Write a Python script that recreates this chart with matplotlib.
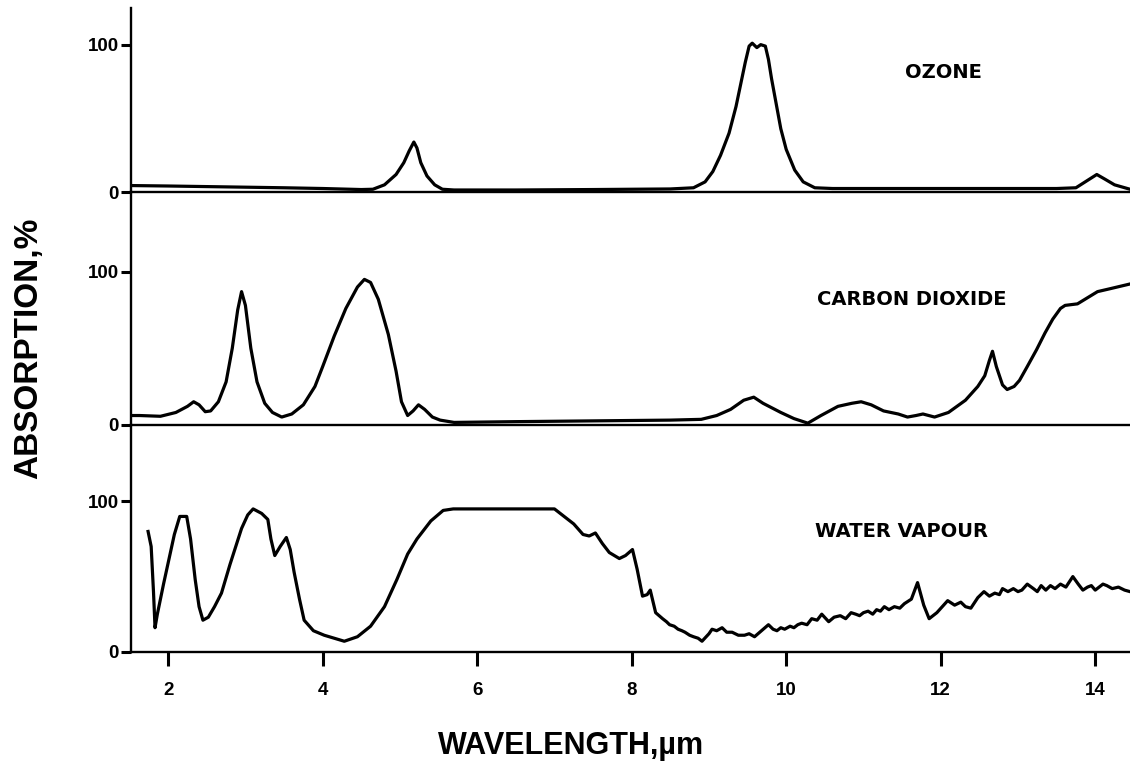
import matplotlib
matplotlib.use('Agg')
from matplotlib import pyplot as plt


### data (wavelength um, absorption %) ###
ozone_x = [1.52, 2.0, 2.5, 3.0, 3.5, 4.0, 4.5, 4.65, 4.8, 4.95, 5.05, 5.12, 5.18,
           5.22, 5.27, 5.35, 5.45, 5.55, 5.7, 6.5, 7.5, 8.5, 8.8, 8.95, 9.05,
           9.15, 9.26, 9.35, 9.41, 9.47, 9.52, 9.56, 9.62, 9.67, 9.73, 9.77,
           9.81, 9.87, 9.93, 10.0, 10.11, 10.22, 10.37, 10.6, 11.5, 12.5, 13.5,
           13.75, 13.9, 14.02, 14.12, 14.25, 14.45]
ozone_y = [4.5, 4.2, 3.8, 3.4, 3.0, 2.5, 1.8, 2.0, 5, 12, 20, 28, 34,
           30, 20, 11, 5, 2, 1.5, 1.5, 1.8, 2.2, 3, 7, 14,
           25, 40, 58, 73, 88, 99, 101, 98, 100, 99, 90,
           77, 60, 43, 29, 15, 7, 3, 2.5, 2.5, 2.5, 2.5,
           3, 8, 12, 9, 5, 2]

co2_x = [1.52, 1.63, 1.9, 2.1, 2.25, 2.33, 2.4, 2.48, 2.55, 2.65, 2.75, 2.83,
         2.9, 2.95, 3.0, 3.07, 3.15, 3.25, 3.35, 3.47, 3.6, 3.75, 3.9, 4.0,
         4.15, 4.3, 4.45, 4.54, 4.62, 4.72, 4.85, 4.95, 5.02, 5.1, 5.17, 5.24,
         5.32, 5.42, 5.52, 5.7, 6.5, 7.5, 8.5, 8.9, 9.1, 9.28, 9.45, 9.58,
         9.7, 9.93, 10.1, 10.28, 10.45, 10.67, 10.85, 10.97, 11.1, 11.26,
         11.45, 11.57, 11.68, 11.77, 11.92, 12.1, 12.32, 12.48, 12.57, 12.63,
         12.67, 12.72, 12.8, 12.86, 12.95, 13.02, 13.12, 13.24, 13.35, 13.45,
         13.55, 13.61, 13.77, 13.9, 14.03, 14.2, 14.45]
co2_y = [6, 6, 5.5, 8, 12, 15, 13, 8.5, 9, 15, 28, 50,
         75, 87, 78, 50, 28, 14, 8, 5, 7, 13, 25, 38,
         58, 76, 90, 95, 93, 82, 59, 35, 15, 6, 9, 13,
         10, 5, 3, 1.5, 2, 2.5, 3, 3.5, 6, 10, 16, 18,
         14, 8, 4, 1, 6, 12, 14, 15, 13, 9,
         7, 5, 6, 7, 5, 8, 16, 25, 32, 42,
         48, 38, 26, 23, 25, 29, 38, 49, 60, 69,
         76, 78, 79, 83, 87, 89, 92]

h2o_x = [1.74, 1.78, 1.81, 1.83, 1.86, 1.88, 1.94, 2.0, 2.08, 2.15, 2.24, 2.29,
         2.35, 2.4, 2.45, 2.52, 2.6, 2.69, 2.8, 2.95, 3.03, 3.1, 3.21, 3.29,
         3.33, 3.38, 3.45, 3.53, 3.58, 3.63, 3.7, 3.76, 3.88, 4.02, 4.15, 4.28,
         4.45, 4.62, 4.8, 4.96, 5.1, 5.22, 5.4, 5.56, 5.69, 6.0, 7.0, 7.1,
         7.25, 7.37, 7.45, 7.53, 7.62, 7.71, 7.84, 7.92, 8.01, 8.07, 8.14, 8.2,
         8.24, 8.31, 8.4, 8.45, 8.49, 8.55, 8.6, 8.65, 8.69, 8.75, 8.8, 8.86,
         8.91, 9.0, 9.04, 9.1, 9.17, 9.23, 9.3, 9.38, 9.46, 9.52, 9.59, 9.68,
         9.77, 9.83, 9.88, 9.93, 9.98, 10.05, 10.1, 10.15, 10.2, 10.27, 10.33,
         10.4, 10.46, 10.55, 10.62, 10.7, 10.77, 10.84, 10.9, 10.95, 11.0,
         11.06, 11.12, 11.17, 11.22, 11.27, 11.33, 11.4, 11.47, 11.53, 11.62,
         11.7, 11.78, 11.85, 11.95, 12.02, 12.09, 12.18, 12.26, 12.32, 12.39,
         12.48, 12.56, 12.63, 12.7, 12.76, 12.8, 12.87, 12.94, 13.0, 13.05,
         13.12, 13.2, 13.25, 13.3, 13.36, 13.42, 13.48, 13.55, 13.62, 13.71,
         13.78, 13.84, 13.9, 13.95, 14.0, 14.05, 14.1, 14.15, 14.22, 14.3,
         14.38, 14.45]
h2o_y = [80, 70, 40, 16, 25, 30, 45, 59, 78, 90, 90, 75,
         48, 30, 21, 23, 30, 39, 58, 82, 91, 95, 92, 88,
         75, 64, 70, 76, 68, 53, 35, 21, 14, 11, 9, 7,
         10, 17, 30, 48, 65, 75, 87, 94, 95, 95, 95, 91,
         85, 78, 77, 79, 72, 66, 62, 64, 68, 55, 37, 38,
         41, 26, 22, 20, 18, 17, 15, 14, 13, 11, 10, 9,
         7, 12, 15, 14, 16, 13, 13, 11, 11, 12, 10, 14,
         18, 15, 14, 16, 15, 17, 16, 18, 19, 18, 22,
         21, 25, 20, 23, 24, 22, 26, 25, 24, 26,
         27, 25, 28, 27, 30, 28, 30, 29, 32, 35,
         46, 31, 22, 26, 30, 34, 31, 33, 30, 29,
         36, 40, 37, 39, 38, 42, 40, 42, 40, 41,
         45, 42, 40, 44, 41, 44, 42, 45, 43, 50,
         45, 41, 43, 44, 41, 43, 45, 44, 42, 43,
         41, 40]

panel_names = ['OZONE', 'CARBON DIOXIDE', 'WATER VAPOUR']
y_ticks = [0, 100]
x_ticks = [2, 4, 6, 8, 10, 12, 14]

myFont = 'Liberation Sans'
plt.rcParams['font.family'] = [myFont, 'DejaVu Sans']


### figure and stacked panels ###
fig = plt.figure(figsize=(11.3, 7.75), dpi=100)

# [left, bottom, width, height] in figure fraction
ax_oz = fig.add_axes([0.116, 0.752, 0.884, 0.238])
ax_co = fig.add_axes([0.116, 0.452, 0.884, 0.300])
ax_wv = fig.add_axes([0.116, 0.159, 0.884, 0.293])

panels = [(ax_oz, ozone_x, ozone_y, 125),
          (ax_co, co2_x, co2_y, 152),
          (ax_wv, h2o_x, h2o_y, 151)]

label_pos = [(12.03, 81), (11.63, 82), (11.49, 80)]

for i, (ax, xs, ys, ytop) in enumerate(panels):
    ax.patch.set_alpha(0)   # don't hide the baseline of the panel above
    ax.plot(xs, ys, color='black', lw=2.3, solid_joinstyle='round')
    ax.set_xlim(1.52, 14.45)
    ax.set_ylim(0, ytop)
    ax.spines['top'].set_visible(False)
    ax.spines['right'].set_visible(False)
    ax.spines['left'].set_linewidth(1.7)
    ax.spines['bottom'].set_linewidth(1.7)
    ax.set_yticks(y_ticks)
    ax.set_yticklabels([str(t) for t in y_ticks], fontsize=13.5, fontweight='bold')
    ax.tick_params(axis='y', direction='out', length=7, width=2.2, pad=2)
    ax.set_xticks(x_ticks)
    ax.text(label_pos[i][0], label_pos[i][1], panel_names[i], ha='center',
            va='center', fontsize=14, fontweight='bold', family='DejaVu Sans')
    if ax is not ax_wv:
        ax.tick_params(axis='x', bottom=False, labelbottom=False)

ax_wv.set_xticklabels([str(t) for t in x_ticks], fontsize=13.5, fontweight='bold')
ax_wv.tick_params(axis='x', direction='out', length=10, width=2.2, pad=12)


### axis titles ###
fig.text(0.025, 0.55, 'ABSORPTION,%', rotation=90, ha='center', va='center',
         fontsize=24, fontweight='bold')
fig.text(0.505, 0.038, 'WAVELENGTH,\u00b5m', ha='center', va='center',
         fontsize=22, fontweight='bold')

fig.savefig('out.png', dpi=100, facecolor='white')
